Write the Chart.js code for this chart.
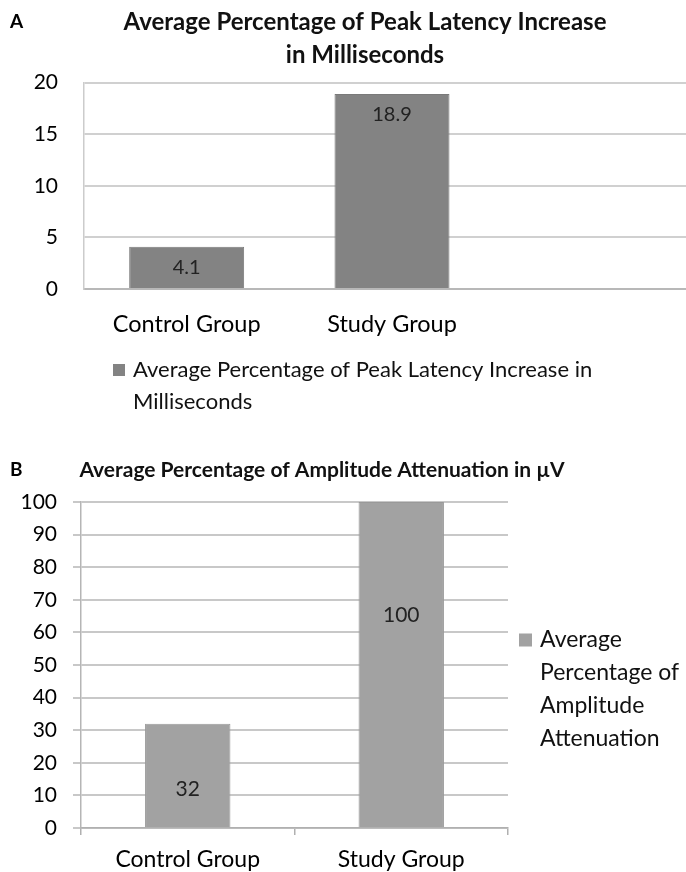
<!DOCTYPE html>
<html>
<head>
<meta charset="utf-8">
<script src="https://cdn.jsdelivr.net/npm/chart.js@4.4.1/dist/chart.umd.min.js"></script>
<style>
  html, body { margin: 0; padding: 0; background: #fff; overflow: hidden; width: 686px; height: 872px; }
  #boxA { position: absolute; left: 0; top: 0; width: 700px; height: 440px; }
  #boxB { position: absolute; left: 0; top: 440px; width: 686px; height: 432px; }
</style>
</head>
<body>
<div id="boxA"><canvas id="chartA"></canvas></div>
<div id="boxB"><canvas id="chartB"></canvas></div>
<script>
// data
const groups = ['Control Group', 'Study Group'];
const latencyValues = [4.1, 18.9];
const latencyTicks = [0, 5, 10, 15, 20];
const amplitudeValues = [32, 100];
const amplitudeTicks = [0, 10, 20, 30, 40, 50, 60, 70, 80, 90, 100];

const latencyTitle = ['Average Percentage of Peak Latency Increase', 'in Milliseconds'];
const latencyLegend = ['Average Percentage of Peak Latency Increase in', 'Milliseconds'];
const amplitudeTitle = 'Average Percentage of Amplitude Attenuation in µV';
const amplitudeLegend = ['Average', 'Percentage of', 'Amplitude', 'Attenuation'];

const FONT = 'Lato';

// little "A" / "B" panel letters
const panelLetter = {
  id: 'panelLetter',
  afterDraw(chart, args, opts) {
    const ctx = chart.ctx;
    ctx.save();
    ctx.font = 'bold ' + opts.size + 'px ' + FONT;
    ctx.fillStyle = '#000';
    ctx.textBaseline = 'middle';
    ctx.textAlign = 'left';
    ctx.fillText(opts.text, opts.x, opts.y);
    ctx.restore();
  }
};

// numbers written inside the bars
const valueLabels = {
  id: 'valueLabels',
  afterDatasetsDraw(chart, args, opts) {
    const ctx = chart.ctx;
    const meta = chart.getDatasetMeta(0);
    const data = chart.data.datasets[0].data;
    ctx.save();
    ctx.font = opts.size + 'px ' + FONT;
    ctx.fillStyle = '#222';
    ctx.textAlign = 'center';
    ctx.textBaseline = 'middle';
    meta.data.forEach((bar, i) => {
      let y;
      if (opts.frac) y = bar.base - (bar.base - bar.y) * opts.frac[i];
      else y = bar.y + opts.inset;
      ctx.fillText(String(data[i]), bar.x, y);
    });
    ctx.restore();
  }
};

// legend with wrapped text
const boxLegend = {
  id: 'boxLegend',
  afterDraw(chart, args, opts) {
    const ctx = chart.ctx;
    const ds = chart.data.datasets[0];
    const x = opts.fromRight ? chart.chartArea.right + opts.x : opts.x;
    ctx.save();
    ctx.fillStyle = ds.backgroundColor;
    ctx.fillRect(x, opts.y - opts.box / 2, opts.box, opts.box);
    ctx.font = opts.size + 'px ' + FONT;
    ctx.fillStyle = '#111';
    ctx.textAlign = 'left';
    ctx.textBaseline = 'middle';
    opts.lines.forEach((t, i) => ctx.fillText(t, x + opts.box + opts.gap, opts.y + i * opts.lineHeight));
    ctx.restore();
  }
};

Chart.defaults.font.family = FONT;
Chart.defaults.animation = false;

// chart A
new Chart(document.getElementById('chartA'), {
  type: 'bar',
  data: {
    labels: [...groups, ''],
    datasets: [{
      label: latencyLegend.join(' '),
      data: latencyValues,
      backgroundColor: '#838383',
      borderColor: '#7a7a7a',
      borderWidth: 1,
      categoryPercentage: 1,
      barPercentage: 0.56
    }]
  },
  options: {
    responsive: true,
    maintainAspectRatio: false,
    layout: { padding: { left: 30, bottom: 103 } },
    scales: {
      x: {
        afterFit: s => { s.height = 48; },
        grid: { display: false, drawTicks: false },
        border: { display: true, color: '#b8b8b8', width: 2 },
        ticks: { font: { size: 23.5 }, color: '#000', padding: 21, maxRotation: 0, autoSkip: false }
      },
      y: {
        min: 0,
        max: 20,
        afterBuildTicks: s => { s.ticks = latencyTicks.map(v => ({ value: v })); },
        afterFit: s => { s.width = 54; },
        grid: { color: '#d0d0d0', lineWidth: 2, drawTicks: false },
        border: { display: true, color: '#cccccc', width: 1.5 },
        ticks: { font: { size: 21 }, color: '#000', padding: 26 }
      }
    },
    plugins: {
      legend: { display: false },
      tooltip: { enabled: false },
      title: {
        display: true,
        text: latencyTitle,
        color: '#111',
        font: { size: 24, weight: 'bold', lineHeight: 1.375 },
        padding: { top: 5.5, bottom: 11.2 }
      },
      panelLetter: { text: 'A', x: 10, y: 22, size: 19 },
      valueLabels: { inset: 21, size: 20 },
      boxLegend: { lines: latencyLegend, x: 113, y: 370, box: 12, gap: 8, size: 22, lineHeight: 32 }
    }
  },
  plugins: [panelLetter, valueLabels, boxLegend]
});

// chart B
new Chart(document.getElementById('chartB'), {
  type: 'bar',
  data: {
    labels: groups,
    datasets: [{
      label: amplitudeLegend.join(' '),
      data: amplitudeValues,
      backgroundColor: '#a2a2a2',
      borderColor: '#999999',
      borderWidth: 1,
      categoryPercentage: 1,
      barPercentage: 0.4
    }]
  },
  options: {
    responsive: true,
    maintainAspectRatio: false,
    layout: { padding: { right: 42 } },
    scales: {
      x: {
        afterFit: s => { s.height = 44; },
        grid: { display: true, drawOnChartArea: false, offset: true, tickLength: 7, color: '#b0b0b0', lineWidth: 1.5 },
        border: { display: true, color: '#b0b0b0', width: 1.5 },
        ticks: { font: { size: 23 }, color: '#000', padding: 11, maxRotation: 0, autoSkip: false }
      },
      y: {
        min: 0,
        max: 100,
        afterBuildTicks: s => { s.ticks = amplitudeTicks.map(v => ({ value: v })); },
        afterFit: s => { s.width = 81; },
        grid: { color: '#c8c8c8', lineWidth: 2, tickLength: 8 },
        border: { display: true, color: '#b5b5b5', width: 1.5 },
        ticks: { font: { size: 21 }, color: '#000', padding: 16 }
      },
      // empty room on the right for the legend
      legendSpace: {
        type: 'linear',
        position: 'right',
        grid: { display: false },
        border: { display: false },
        ticks: { display: false },
        afterFit: s => { s.width = 136; }
      }
    },
    plugins: {
      legend: { display: false },
      tooltip: { enabled: false },
      title: {
        display: true,
        text: amplitudeTitle,
        color: '#111',
        font: { size: 21, weight: 'bold', lineHeight: 1.2 },
        padding: { top: 17.4, bottom: 19.4 }
      },
      panelLetter: { text: 'B', x: 10, y: 30, size: 19 },
      valueLabels: { frac: [0.366, 0.653], size: 21 },
      boxLegend: { lines: amplitudeLegend, fromRight: true, x: 11, y: 200, box: 13, gap: 8, size: 23, lineHeight: 33 }
    }
  },
  plugins: [panelLetter, valueLabels, boxLegend]
});
</script>
</body>
</html>
